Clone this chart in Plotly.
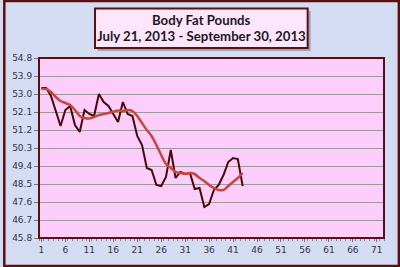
import plotly.graph_objects as go

days = list(range(1, 44))
body_fat = [53.3, 53.3, 52.9, 52.1, 51.4, 52.2, 52.4, 51.45, 51.1, 52.2,
            52.0, 51.9, 53.0, 52.6, 52.4, 52.0, 51.6, 52.6, 52.0, 51.9,
            50.9, 50.45, 49.3, 49.2, 48.45, 48.4, 48.85, 50.2, 48.8, 49.1,
            49.0, 49.05, 48.25, 48.3, 47.35, 47.5, 48.2, 48.45, 48.95, 49.6,
            49.8, 49.75, 48.4]
trend = [53.25, 53.25, 53.1, 52.85, 52.65, 52.55, 52.45, 52.2, 51.9, 51.8,
         51.78, 51.85, 51.95, 52.0, 52.05, 52.12, 52.18, 52.15, 52.2, 52.15,
         51.9, 51.55, 51.2, 50.9, 50.45, 49.95, 49.5, 49.3, 49.1, 49.05,
         49.0, 49.05, 49.0, 48.8, 48.65, 48.45, 48.3, 48.2, 48.2, 48.4,
         48.6, 48.8, 49.05]
x_ticks = list(range(1, 72, 5))
y_ticks = [45.8, 46.7, 47.6, 48.5, 49.4, 50.3, 51.2, 52.1, 53.0, 53.9, 54.8]
title_lines = ["Body Fat Pounds", "July 21, 2013 - September 30, 2013"]

W, H = 400, 267
L, R, T, B = 36, 16, 58, 29
PW, PH = W - L - R, H - T - B

def px(x):
    return (x - L) / PW

def py(y):
    return 1 - (y - T) / PH

fig = go.Figure()
fig.add_trace(go.Scatter(x=days, y=body_fat, mode="lines",
                         line=dict(color="#4a0808", width=2), showlegend=False))
fig.add_trace(go.Scatter(x=days, y=trend, mode="lines",
                         line=dict(color="#c8463c", width=2.5, shape="spline", smoothing=0.6),
                         showlegend=False))

shapes = [
    dict(type="rect", xref="paper", yref="paper", x0=px(1), x1=px(W - 1), y0=py(1), y1=py(H - 1),
         line=dict(color="#5c0f0f", width=2.5), layer="above"),
    dict(type="rect", xref="paper", yref="paper", x0=0, x1=1, y0=0, y1=1,
         line=dict(color="#5a1010", width=2), layer="above"),
    dict(type="rect", xref="paper", yref="paper", x0=px(95), x1=px(310), y0=py(11), y1=py(51),
         fillcolor="rgba(90,90,110,0.45)", line=dict(width=0), layer="above"),
    dict(type="rect", xref="paper", yref="paper", x0=px(92.5), x1=px(307), y0=py(8.5), y1=py(48),
         fillcolor="#fde6fb", line=dict(color="#5c0f0f", width=2), layer="above"),
]

annotations = [
    dict(text="<b>" + title_lines[0] + "</b>", xref="paper", yref="paper", x=px(200), y=py(20),
         showarrow=False, font=dict(family="Lato", size=13.2, color="#1a1a1a"), xanchor="center", yanchor="middle"),
    dict(text="<b>" + title_lines[1] + "</b>", xref="paper", yref="paper", x=px(200), y=py(36),
         showarrow=False, font=dict(family="Lato", size=13.2, color="#1a1a1a"), xanchor="center", yanchor="middle"),
]

fig.update_layout(
    width=W, height=H,
    margin=dict(l=L, r=R, t=T, b=B),
    paper_bgcolor="#d3dcf3",
    plot_bgcolor="#fdcdfb",
    shapes=shapes,
    annotations=annotations,
    xaxis=dict(range=[0.5, 72.5], tickvals=x_ticks, ticktext=[str(v) for v in x_ticks],
               showgrid=False, zeroline=False, ticks="outside", ticklen=3, tickcolor="#777",
               minor=dict(ticks="outside", dtick=1, tick0=0.5, ticklen=2, tickcolor="#888"),
               tickfont=dict(family="DejaVu Sans", size=9, color="#333344"), fixedrange=True),
    yaxis=dict(range=[45.8, 54.8], tickvals=y_ticks, ticktext=["%.1f" % v for v in y_ticks],
               showgrid=True, gridcolor="#9a9a9a", gridwidth=1.2, zeroline=False,
               ticks="outside", ticklen=4, tickcolor="#777",
               tickfont=dict(family="DejaVu Sans", size=9, color="#333344"), fixedrange=True),
)

fig.write_html("out.html")
